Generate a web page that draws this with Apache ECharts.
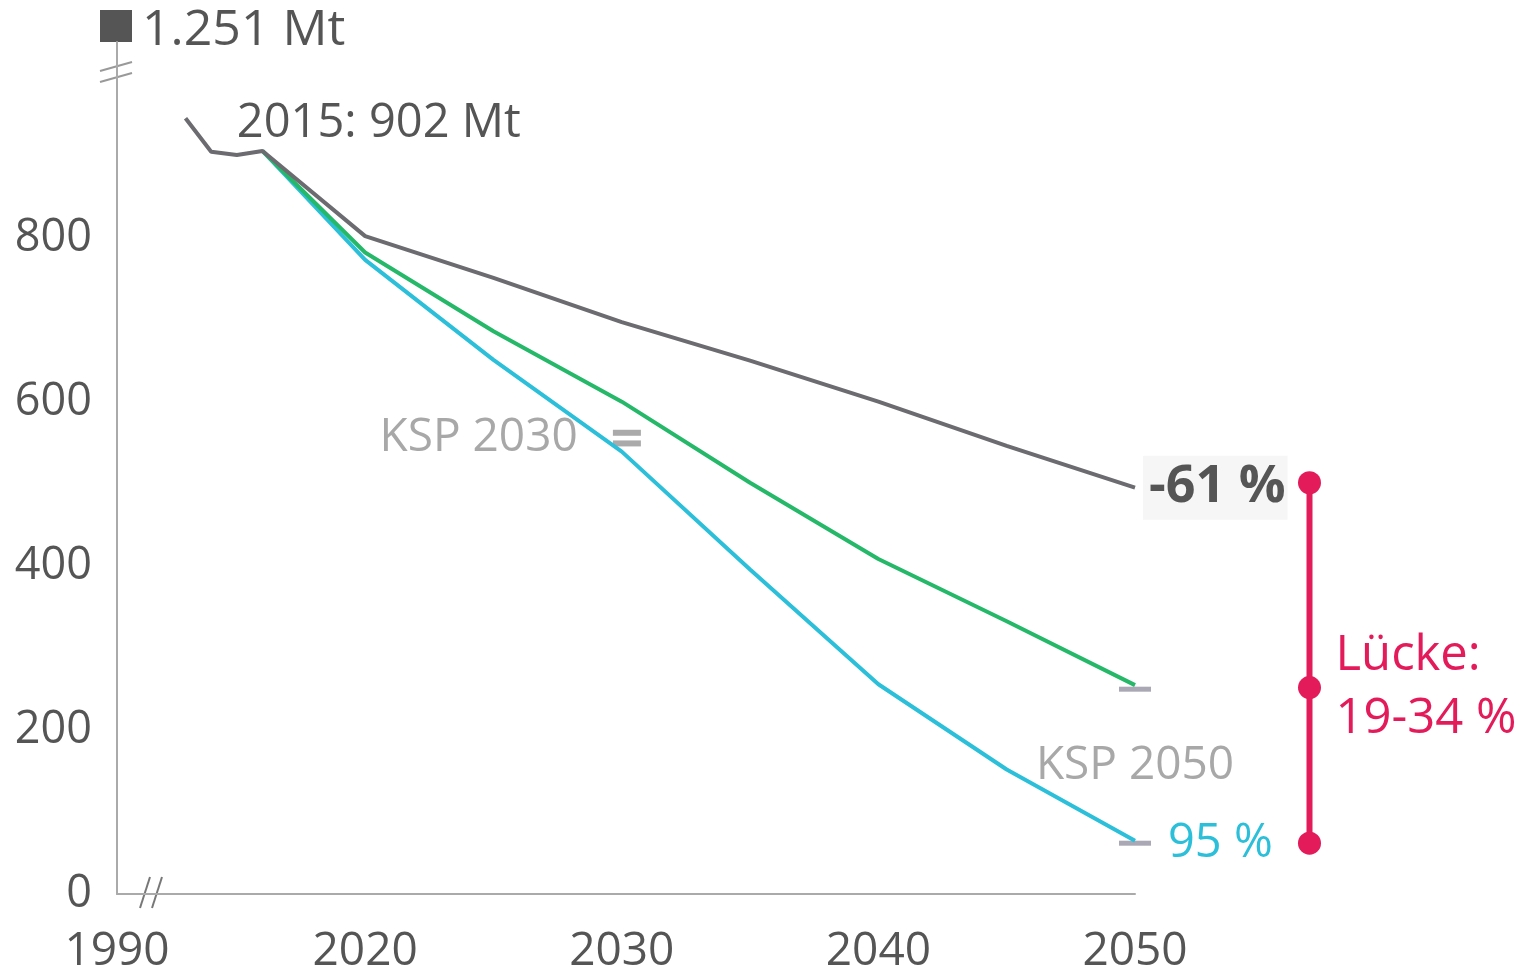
<!DOCTYPE html>
<html>
<head>
<meta charset="utf-8">
<script src="https://cdn.jsdelivr.net/npm/echarts@6/dist/echarts.min.js"></script>
<style>
html, body { margin: 0; padding: 0; background: #fff; }
#main { width: 1519px; height: 976px; }
</style>
</head>
<body>
<div id="main"></div>
<script>
// emissions in Mt CO2-eq
var histYears = [2013, 2014, 2015, 2016];
var hist = [947, 906, 902, 907];
var projYears = [2016, 2020, 2025, 2030, 2035, 2040, 2045, 2050];
var trend = [907, 803, 752, 698, 651, 601, 547, 496];
var scen80 = [907, 783, 687, 601, 502, 409, 333, 255];
var scen95 = [907, 774, 652, 540, 396, 256, 152, 65];
var ksp2030 = [563, 550];
var ksp2050 = [250, 62];
var gapYear = 2056.8;
var gap = [502, 252, 62];
var xTicks = [2010.33, 2020, 2030, 2040, 2050];
var xTickText = ['1990', '2020', '2030', '2040', '2050'];
var yTicks = [0, 200, 400, 600, 800];

var FONT = 'Open Sans';
var RED = '#e31b5b';
var myChart = echarts.init(document.getElementById('main'));

function pairs(xs, ys) {
    return xs.map(function (x, i) { return [x, ys[i]]; });
}

var trendData = pairs(histYears, hist).concat(pairs(projYears.slice(1), trend.slice(1)));

var labelData = [
    { value: [2015, 902], label: { position: [0, -31], align: 'left', verticalAlign: 'middle', formatter: '2015: 902 Mt', color: '#555555', fontSize: 47 } },
    { value: [2030, 557], label: { position: 'left', distance: 44, formatter: 'KSP 2030', color: '#a8a8a8' } },
    { value: [2050, 496], label: { position: 'right', distance: 8, formatter: '-61 %', color: '#555555', fontWeight: 'bold', fontSize: 52, backgroundColor: '#f6f6f6', padding: [6, 2, 6, 6] } },
    { value: [2050, 62], label: { position: 'right', distance: 33, formatter: '95 %', color: '#2bbfd9', fontSize: 47 } },
    { value: [2050, 156], label: { position: 'inside', formatter: 'KSP 2050', color: '#a8a8a8' } },
    { value: [gapYear, 252], label: { position: 'right', distance: 26, formatter: 'Lücke:\n19-34 %', color: RED, fontSize: 49, lineHeight: 63 } }
];

option = {
    animation: false,
    textStyle: { fontFamily: FONT },
    grid: { left: 117, right: 384, top: 42, bottom: 82 },
    xAxis: {
        type: 'value',
        min: 2010.33,
        max: 2050,
        splitLine: { show: false },
        axisTick: { show: false },
        axisLine: { lineStyle: { color: '#aaaaaa', width: 2 } },
        axisLabel: {
            customValues: xTicks,
            margin: 35,
            fontSize: 46,
            fontFamily: FONT,
            color: '#555555',
            formatter: function (v) {
                var i = xTicks.indexOf(v);
                return i >= 0 ? xTickText[i] : '';
            }
        }
    },
    yAxis: {
        type: 'value',
        min: 0,
        max: 1040,
        splitLine: { show: false },
        axisTick: { show: false },
        axisLine: { show: true, lineStyle: { color: '#aaaaaa', width: 2 } },
        axisLabel: {
            customValues: yTicks,
            margin: 25,
            fontSize: 45,
            fontFamily: FONT,
            color: '#555555'
        }
    },
    graphic: [
        { type: 'rect', shape: { x: 100, y: 10, width: 32, height: 32 }, style: { fill: '#555555' } },
        { type: 'text', style: { x: 142, y: 31, text: '1.251 Mt', font: '50px "Open Sans"', fill: '#555555', verticalAlign: 'middle' } },
        { type: 'line', shape: { x1: 100, y1: 71, x2: 132, y2: 62 }, style: { stroke: '#999999', lineWidth: 2 } },
        { type: 'line', shape: { x1: 100, y1: 82, x2: 132, y2: 73 }, style: { stroke: '#999999', lineWidth: 2 } },
        { type: 'line', shape: { x1: 140, y1: 908, x2: 150, y2: 877 }, style: { stroke: '#777777', lineWidth: 2 } },
        { type: 'line', shape: { x1: 152, y1: 908, x2: 162, y2: 877 }, style: { stroke: '#777777', lineWidth: 2 } }
    ],
    series: [
        {
            name: '95 %', type: 'line', data: pairs(projYears, scen95),
            symbol: 'none', lineStyle: { color: '#2bbfd9', width: 4 }
        },
        {
            name: '80 %', type: 'line', data: pairs(projYears, scen80),
            symbol: 'none', lineStyle: { color: '#25b868', width: 4 }
        },
        {
            name: 'Trend', type: 'line', data: trendData,
            symbol: 'none', lineStyle: { color: '#6b6b70', width: 4 }
        },
        {
            name: 'KSP 2030', type: 'scatter', clip: false,
            data: ksp2030.map(function (v) { return [2030.2, v]; }),
            symbol: 'rect', symbolSize: [28, 6], itemStyle: { color: '#aaaaaa', opacity: 1 }
        },
        {
            name: 'KSP 2050', type: 'scatter', clip: false,
            data: ksp2050.map(function (v) { return [2050, v]; }),
            symbol: 'rect', symbolSize: [32, 5], itemStyle: { color: '#aaa8b4', opacity: 1 }
        },
        {
            // gap bar: vertical stroke from the first to the last value
            name: 'Lücke bar', type: 'custom', clip: false,
            data: [[gapYear, gap[0], gap[gap.length - 1]]],
            renderItem: function (params, api) {
                var p1 = api.coord([api.value(0), api.value(1)]);
                var p2 = api.coord([api.value(0), api.value(2)]);
                return {
                    type: 'line',
                    shape: { x1: p1[0], y1: p1[1], x2: p2[0], y2: p2[1] },
                    style: { stroke: RED, lineWidth: 6 }
                };
            }
        },
        {
            name: 'Lücke', type: 'scatter', clip: false,
            data: gap.map(function (v) { return [gapYear, v]; }),
            symbol: 'circle', symbolSize: 23,
            itemStyle: { color: RED, opacity: 1 }
        },
        {
            name: 'labels', type: 'scatter', clip: false, symbolSize: 0,
            itemStyle: { color: 'transparent', opacity: 1 },
            label: { show: true, fontSize: 46, fontFamily: FONT },
            data: labelData, z: 5
        }
    ]
};
myChart.setOption(option);
</script>
</body>
</html>
